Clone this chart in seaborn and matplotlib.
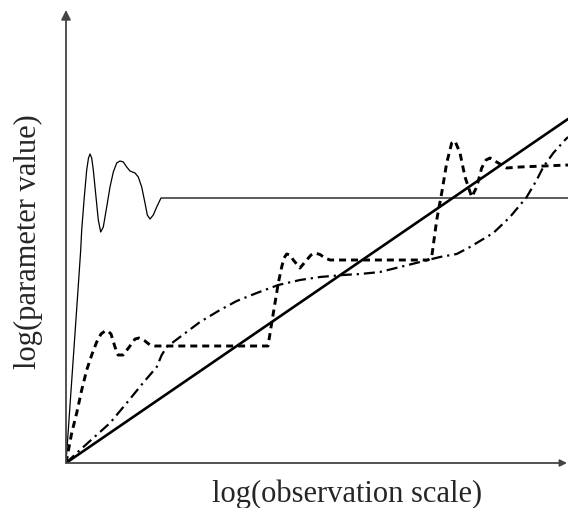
import matplotlib
matplotlib.use("Agg")
import matplotlib.pyplot as plt
import seaborn as sns

# ---- data (arbitrary log units) ----
thin_x = [0, 7.5, 12, 14.7, 15.7, 18.3, 20.7, 22.5, 24, 25.7, 27.3, 30, 32.3, 34.7,
          37.3, 40.7, 44, 47.3, 50.7, 54, 57.3, 60.7, 64, 69, 72.3, 75.7, 79, 81.3,
          84, 87.3, 90.7, 95, 502]
thin_y = [0, 108, 173, 213, 233, 266, 293, 305, 309, 305, 293, 266, 243, 231,
          236, 256, 276, 291, 300, 302, 301, 296, 292, 290, 286, 276, 260, 248,
          244, 248, 256, 265, 265]

dash_x = [0, 5.7, 10.7, 15.7, 20.7, 25.7, 30.7, 35, 39, 42, 45, 49, 52, 57, 64, 69,
          73, 79, 84, 89, 202, 205.7, 209, 212.3, 215.7, 218, 220.7, 224, 227.3, 234,
          240.7, 245, 249, 254, 259, 264, 362, 365.7, 370.7, 375.7, 380.7, 385.7,
          389, 394, 399, 405.7, 410.7, 415.7, 420, 424, 432.3, 440.7, 454, 502]
dash_y = [0, 30, 50, 73, 93, 108, 121, 129, 132, 132, 129, 116, 108, 108, 117, 124,
          125, 122, 118, 117, 117, 140, 160, 180, 196, 205, 209, 208, 203, 195,
          203, 208, 210, 208.5, 205, 203, 203, 206, 243, 270, 300, 320,
          322, 310, 286, 266, 276, 295, 303, 305, 300, 295, 296, 298]

dashdot_x = [0, 14, 27.3, 44, 60.7, 77, 90.7, 95.7, 100.7, 114, 134, 154, 170.7,
             190.7, 212.3, 234, 254, 277, 294, 314, 334, 354, 374, 390.7, 404,
             427.3, 444, 460.7, 470.7, 477.3, 487.3, 499, 502]
dashdot_y = [0, 13, 25, 40, 60, 80, 96, 108, 116, 126, 141, 153, 162,
             170, 178, 183, 186, 188, 189, 191, 196, 201, 206, 209, 216,
             230, 246, 266, 283, 296, 310, 323, 326]

thick_x = [0, 502]
thick_y = [0, 344]

xlabel = "log(observation scale)"
ylabel = "log(parameter value)"

# ---- figure ----
sns.set_style("white")
plt.rcParams["font.family"] = ["Liberation Serif", "DejaVu Serif"]

W, H = 568, 508
fig = plt.figure(figsize=(W / 100, H / 100), dpi=100)
ax = fig.add_axes([66 / W, 45 / H, 502 / W, 453 / H])
ax.set_xlim(0, 502)
ax.set_ylim(0, 453)

sns.lineplot(x=thin_x, y=thin_y, ax=ax, sort=False, estimator=None,
             color="black", lw=0.9)
sns.lineplot(x=dash_x, y=dash_y, ax=ax, sort=False, estimator=None,
             color="black", lw=2.1)
ax.lines[-1].set_dashes((2.4, 1.7))
sns.lineplot(x=dashdot_x, y=dashdot_y, ax=ax, sort=False, estimator=None,
             color="black", lw=1.6)
ax.lines[-1].set_dashes((5.0, 2.2, 1.0, 2.2))
sns.lineplot(x=thick_x, y=thick_y, ax=ax, sort=False, estimator=None,
             color="black", lw=1.9)

for s in ax.spines.values():
    s.set_visible(False)
ax.set_xticks([])
ax.set_yticks([])
ax.set_xlabel("")
ax.set_ylabel("")

axis_col = "#444444"
ax.annotate("", xy=(0, 1.0), xytext=(0, 0), xycoords="axes fraction",
            arrowprops=dict(arrowstyle="-|>", color=axis_col, lw=1.3,
                            mutation_scale=14, shrinkA=0, shrinkB=0),
            annotation_clip=False)
ax.annotate("", xy=(0.998, 0), xytext=(0, 0), xycoords="axes fraction",
            arrowprops=dict(arrowstyle="-|>", color=axis_col, lw=1.3,
                            mutation_scale=10, shrinkA=0, shrinkB=0),
            annotation_clip=False)

fig.text(347 / W, 1 - 502 / H, xlabel, fontsize=22, ha="center", va="baseline")
fig.text(36 / W, 1 - 242 / H, ylabel, fontsize=22, rotation=90,
         rotation_mode="anchor", ha="center", va="baseline")

fig.savefig("out.png", dpi=100)
